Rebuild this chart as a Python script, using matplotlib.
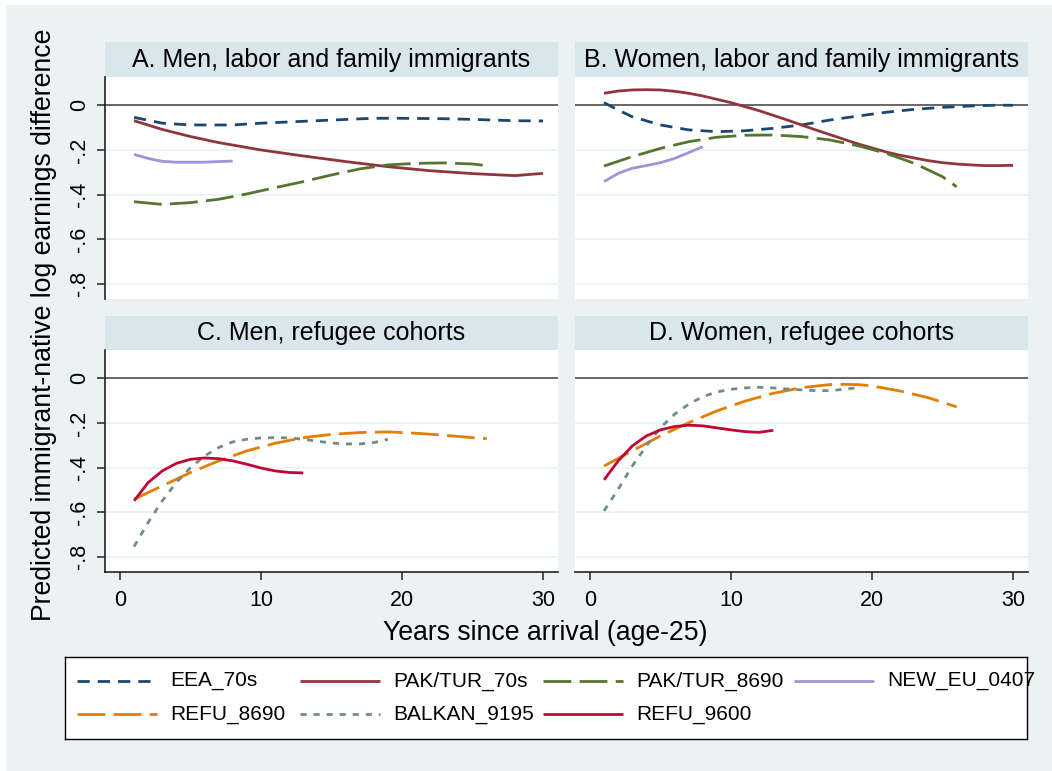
import matplotlib
matplotlib.use("Agg")
import matplotlib.pyplot as plt
from matplotlib.patches import Rectangle

plt.rcParams['font.family'] = ['Liberation Sans', 'DejaVu Sans']

# ---------------- data ----------------
panel_titles = ["A. Men, labor and family immigrants",
                "B. Women, labor and family immigrants",
                "C. Men, refugee cohorts",
                "D. Women, refugee cohorts"]

y_ticks = [0, -0.2, -0.4, -0.6, -0.8]
y_tick_labels = ["0", "-.2", "-.4", "-.6", "-.8"]
x_ticks = [0, 10, 20, 30]
x_tick_labels = ["0", "10", "20", "30"]

# Panel A
eea_a_x = [1, 3, 5, 8, 10, 15, 18, 20, 23, 25, 28, 30]
eea_a_y = [-0.054, -0.080, -0.088, -0.088, -0.080, -0.066, -0.058, -0.058, -0.060, -0.063, -0.069, -0.070]
pak70_a_x = [1, 3, 5, 7, 10, 13, 16, 19, 22, 25, 28, 30]
pak70_a_y = [-0.069, -0.108, -0.140, -0.167, -0.200, -0.227, -0.252, -0.275, -0.293, -0.306, -0.315, -0.305]
pak86_a_x = [1, 3, 5, 7, 9, 11, 13, 15, 17, 19, 21, 23, 25, 26]
pak86_a_y = [-0.432, -0.444, -0.436, -0.421, -0.397, -0.369, -0.342, -0.312, -0.285, -0.267, -0.260, -0.258, -0.263, -0.270]
neweu_a_x = [1, 2, 3, 4, 5, 6, 7, 8]
neweu_a_y = [-0.220, -0.238, -0.251, -0.255, -0.255, -0.255, -0.252, -0.250]

# Panel B
eea_b_x = [1, 2, 3, 5, 7, 9, 11, 13, 15, 17, 19, 21, 23, 25, 27, 29, 30]
eea_b_y = [0.012, -0.021, -0.051, -0.088, -0.110, -0.118, -0.114, -0.103, -0.088, -0.066, -0.048, -0.031, -0.018, -0.009, -0.003, 0.001, 0.000]
pak70_b_x = list(range(1, 31))
pak70_b_y = [0.054, 0.064, 0.069, 0.070, 0.069, 0.063, 0.054, 0.042, 0.027, 0.012,
             -0.006, -0.024, -0.045, -0.066, -0.088, -0.110, -0.131, -0.152, -0.173, -0.191,
             -0.209, -0.224, -0.236, -0.248, -0.257, -0.263, -0.267, -0.270, -0.270, -0.269]
pak86_b_x = [1, 3, 5, 7, 9, 11, 13, 15, 17, 19, 21, 23, 25, 26]
pak86_b_y = [-0.272, -0.230, -0.193, -0.163, -0.143, -0.134, -0.133, -0.140, -0.155, -0.181, -0.215, -0.260, -0.320, -0.365]
neweu_b_x = [1, 2, 3, 4, 5, 6, 7, 8]
neweu_b_y = [-0.342, -0.305, -0.282, -0.270, -0.257, -0.238, -0.212, -0.185]

# Panel C
refu86_c_x = [1, 3, 5, 7, 9, 11, 13, 15, 17, 19, 21, 23, 25, 26]
refu86_c_y = [-0.542, -0.482, -0.422, -0.370, -0.325, -0.291, -0.266, -0.251, -0.243, -0.240, -0.246, -0.255, -0.266, -0.270]
balkan_c_x = list(range(1, 20))
balkan_c_y = [-0.754, -0.646, -0.549, -0.467, -0.400, -0.348, -0.310, -0.285, -0.273, -0.267,
              -0.266, -0.267, -0.273, -0.282, -0.290, -0.294, -0.294, -0.288, -0.273]
refu96_c_x = list(range(1, 14))
refu96_c_y = [-0.549, -0.467, -0.415, -0.381, -0.363, -0.357, -0.360, -0.370, -0.385, -0.402, -0.415, -0.422, -0.424]

# Panel D
refu86_d_x = [1, 3, 5, 7, 9, 11, 13, 15, 17, 18, 19, 20, 22, 24, 26]
refu86_d_y = [-0.393, -0.325, -0.258, -0.199, -0.146, -0.102, -0.067, -0.042, -0.028, -0.027, -0.028, -0.034, -0.057, -0.087, -0.128]
balkan_d_x = list(range(1, 20))
balkan_d_y = [-0.594, -0.497, -0.393, -0.303, -0.221, -0.161, -0.116, -0.082, -0.061, -0.049,
              -0.043, -0.040, -0.043, -0.048, -0.052, -0.055, -0.055, -0.049, -0.042]
refu96_d_x = list(range(1, 14))
refu96_d_y = [-0.455, -0.370, -0.303, -0.258, -0.231, -0.216, -0.210, -0.213, -0.222, -0.231, -0.239, -0.242, -0.233]

series_names = ["EEA_70s", "PAK/TUR_70s", "PAK/TUR_8690", "NEW_EU_0407",
                "REFU_8690", "BALKAN_9195", "REFU_9600"]

# ---------------- styles ----------------
LW = 2.0
styles = {
    "EEA_70s":      dict(color="#1a476f", dashes=(4.4, 2.9)),
    "PAK/TUR_70s":  dict(color="#90353b", dashes=None),
    "PAK/TUR_8690": dict(color="#55752f", dashes=(10.0, 3.0)),
    "NEW_EU_0407":  dict(color="#9d95d9", dashes=None),
    "REFU_8690":    dict(color="#e37e00", dashes=(10.0, 3.0)),
    "BALKAN_9195":  dict(color="#6e8e84", dashes=(2.2, 2.5)),
    "REFU_9600":    dict(color="#c10534", dashes=None),
}

panel_data = [
    [("EEA_70s", eea_a_x, eea_a_y), ("PAK/TUR_70s", pak70_a_x, pak70_a_y),
     ("PAK/TUR_8690", pak86_a_x, pak86_a_y), ("NEW_EU_0407", neweu_a_x, neweu_a_y)],
    [("EEA_70s", eea_b_x, eea_b_y), ("PAK/TUR_70s", pak70_b_x, pak70_b_y),
     ("PAK/TUR_8690", pak86_b_x, pak86_b_y), ("NEW_EU_0407", neweu_b_x, neweu_b_y)],
    [("REFU_8690", refu86_c_x, refu86_c_y), ("BALKAN_9195", balkan_c_x, balkan_c_y),
     ("REFU_9600", refu96_c_x, refu96_c_y)],
    [("REFU_8690", refu86_d_x, refu86_d_y), ("BALKAN_9195", balkan_d_x, balkan_d_y),
     ("REFU_9600", refu96_d_x, refu96_d_y)],
]

def draw(ax, name, x, y, **kw):
    st = styles[name]
    ln, = ax.plot(x, y, color=st["color"], lw=LW, solid_capstyle='butt',
                  dash_capstyle='butt', **kw)
    if st["dashes"] is not None:
        ln.set_dashes(st["dashes"])
    return ln

# ---------------- figure ----------------
W, H = 1052, 771
BG = "#EAF2F3"
STRIP = "#D9E6EB"
fig = plt.figure(figsize=(W / 100, H / 100), dpi=100, facecolor="white")
fig.patches.append(Rectangle((6 / W, 0), (W - 6) / W, (H - 5) / H,
                             transform=fig.transFigure, facecolor=BG,
                             edgecolor="none", zorder=-10))

def px_axes(x0, y0, x1, y1):
    return fig.add_axes([x0 / W, 1 - y1 / H, (x1 - x0) / W, (y1 - y0) / H])

cols = [(105, 558), (575, 1028)]
rows = [(42, 77, 299), (316, 350, 572)]

for i in range(4):
    r, c = divmod(i, 2)
    x0, x1 = cols[c]
    st, pt, pb = rows[r]
    sax = px_axes(x0, st, x1, pt)
    sax.set_facecolor(STRIP)
    sax.set_xticks([]); sax.set_yticks([])
    for s in sax.spines.values():
        s.set_visible(False)
    sax.text(0.5, 0.5, panel_titles[i], ha="center", va="center",
             fontsize=18, transform=sax.transAxes)

    ax = px_axes(x0, pt, x1, pb)
    ax.set_facecolor("white")
    ax.set_xlim(-1.06, 31.06)
    ax.set_ylim(-0.868, 0.127)
    for g in y_ticks[1:]:
        ax.axhline(g, color=BG, lw=1.3, zorder=0)
    ax.axhline(0, color="#5a5a5a", lw=1.3, zorder=1)
    for name, xs, ys in panel_data[i]:
        draw(ax, name, xs, ys, zorder=3)

    for s in ["top", "right"]:
        ax.spines[s].set_visible(False)
    ax.spines["left"].set_visible(c == 0)
    ax.spines["bottom"].set_visible(r == 1)
    for s in ["left", "bottom"]:
        ax.spines[s].set_color("#222222")
        ax.spines[s].set_linewidth(1.2)

    if c == 0:
        ax.set_yticks(y_ticks)
        ax.set_yticklabels(y_tick_labels, rotation=90, va="center", fontsize=15.5)
        ax.tick_params(axis="y", length=6, width=1.1, color="#222222", pad=5)
    else:
        ax.set_yticks([])
    if r == 1:
        ax.set_xticks(x_ticks)
        ax.set_xticklabels(x_tick_labels, fontsize=15.5)
        ax.tick_params(axis="x", length=6, width=1.1, color="#222222", pad=7)
    else:
        ax.set_xticks([])

fig.text(44 / W, 1 - 325 / H, "Predicted immigrant-native log earnings difference",
         rotation=90, ha="center", va="center", fontsize=19.2)
fig.text(545.5 / W, 1 - 633 / H, "Years since arrival (age-25)",
         ha="center", va="center", fontsize=19.2)

# ---------------- legend ----------------
lx0, ly0, lx1, ly1 = 65, 657, 1027, 739
lax = px_axes(lx0, ly0, lx1, ly1)
lax.set_xlim(lx0, lx1)
lax.set_ylim(ly1, ly0)
lax.set_facecolor("white")
lax.set_xticks([]); lax.set_yticks([])
for s in lax.spines.values():
    s.set_color("black"); s.set_linewidth(1.0)
handle_x = [77, 300, 543, 794]
row_y = [681, 714]
for k, name in enumerate(series_names):
    rr, cc = divmod(k, 4)
    hx = handle_x[cc]
    yy = row_y[rr]
    draw(lax, name, [hx, hx + 80], [yy, yy])
    lax.text(hx + 93, yy, name, ha="left", va="center", fontsize=15)

fig.savefig("out.png", dpi=100, facecolor=fig.get_facecolor())
